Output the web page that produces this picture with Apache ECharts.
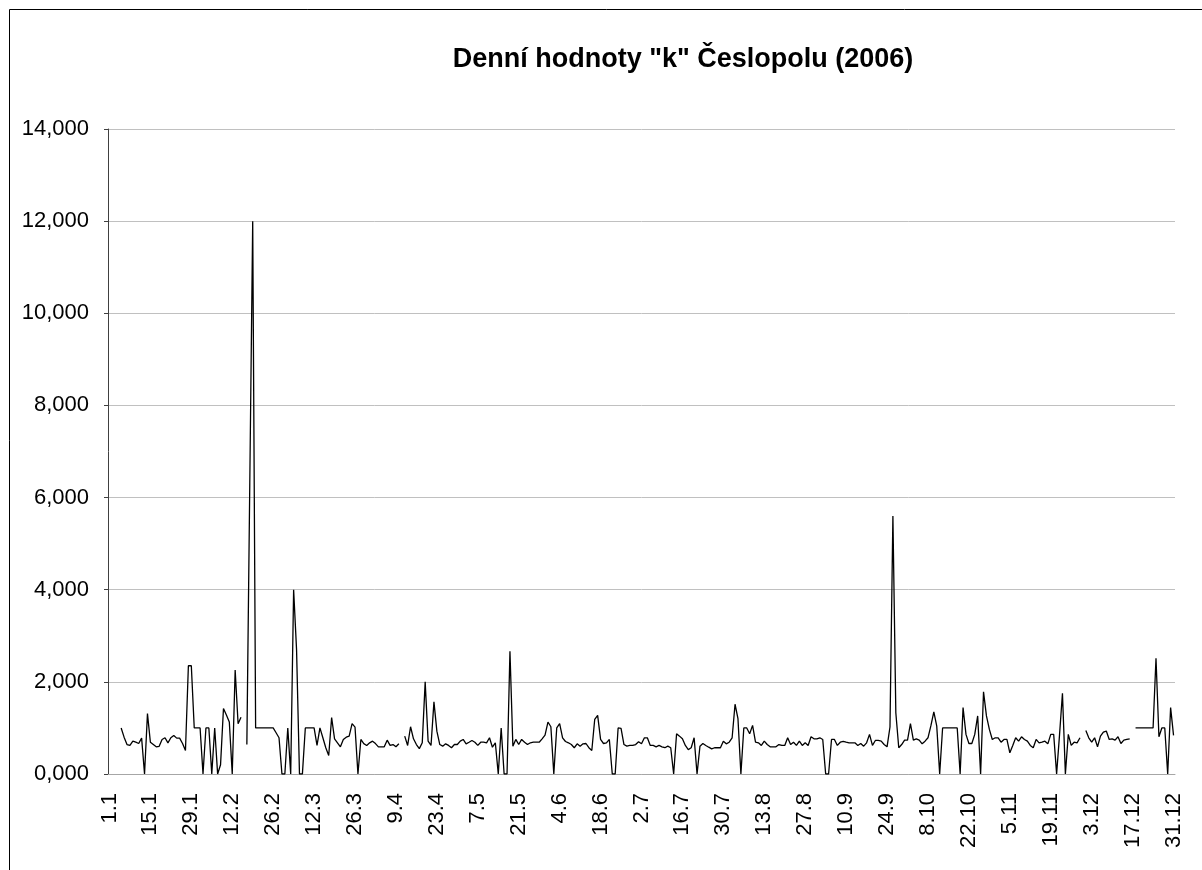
<!DOCTYPE html>
<html>
<head>
<meta charset="utf-8">
<script src="https://cdn.jsdelivr.net/npm/echarts@6/dist/echarts.min.js"></script>
<style>
  html, body { margin: 0; padding: 0; background: #fff; }
  #chart { width: 1202px; height: 870px; }
</style>
</head>
<body>
<div id="chart"></div>
<script>
// denni hodnoty k, 2006 (null = chybi mereni)
var kValues = [
  null, null, null, null, 1.0, 0.80, 0.64, 0.62, 0.713, 0.69,
  0.662, 0.779, 0, 1.31, 0.69, 0.64, 0.59, 0.60, 0.75, 0.786,
  0.677, 0.786, 0.837, 0.779, 0.779, 0.662, 0.51, 2.35, 2.35, 1.0,
  1.0, 1.0, 0, 1.0, 1.0, 0, 1.0, 0, 0.2, 1.42,
  1.28, 1.128, 0, 2.257, 1.09, 1.23, null, 0.64, 6.3, 12.0,
  1.0, 1.0, 1.0, 1.0, 1.0, 1.0, 1.0, 0.895, 0.786, 0,
  0, 1.0, 0, 4.0, 2.7, 0, 0, 1.0, 1.0, 1.0,
  1.0, 0.62, 1.0, 0.786, 0.57, 0.40, 1.223, 0.764, 0.677, 0.59,
  0.75, 0.80, 0.822, 1.092, 1.019, 0, 0.75, 0.66, 0.62, 0.677,
  0.713, 0.66, 0.59, 0.59, 0.59, 0.735, 0.62, 0.64, 0.59, 0.655,
  null, 0.822, 0.62, 1.026, 0.764, 0.64, 0.55, 0.677, 2.0, 0.713,
  0.62, 1.565, 0.93, 0.64, 0.604, 0.655, 0.62, 0.57, 0.64, 0.64,
  0.713, 0.75, 0.655, 0.69, 0.728, 0.69, 0.62, 0.69, 0.69, 0.677,
  0.786, 0.582, 0.677, 0, 1.0, 0, 0, 2.663, 0.604, 0.75,
  0.64, 0.75, 0.69, 0.64, 0.677, 0.69, 0.69, 0.69, 0.764, 0.845,
  1.128, 1.026, 0, 1.0, 1.092, 0.786, 0.706, 0.677, 0.64, 0.57,
  0.655, 0.604, 0.655, 0.662, 0.57, 0.51, 1.187, 1.274, 0.75, 0.662,
  0.677, 0.75, 0, 0, 1.0, 0.99, 0.64, 0.604, 0.62, 0.62,
  0.64, 0.70, 0.655, 0.786, 0.786, 0.62, 0.62, 0.59, 0.62, 0.59,
  0.57, 0.604, 0.57, 0, 0.874, 0.822, 0.764, 0.62, 0.53, 0.57,
  0.786, 0, 0.604, 0.662, 0.62, 0.582, 0.546, 0.57, 0.57, 0.57,
  0.713, 0.655, 0.69, 0.786, 1.514, 1.2, 0, 1.0, 1.0, 0.874,
  1.056, 0.69, 0.677, 0.62, 0.713, 0.64, 0.59, 0.59, 0.59, 0.64,
  0.62, 0.62, 0.786, 0.64, 0.69, 0.62, 0.713, 0.62, 0.677, 0.62,
  0.808, 0.764, 0.764, 0.786, 0.75, 0, 0, 0.75, 0.75, 0.62,
  0.69, 0.706, 0.69, 0.677, 0.677, 0.677, 0.62, 0.662, 0.604, 0.677,
  0.86, 0.62, 0.728, 0.728, 0.713, 0.64, 0.59, 1.02, 5.6, 1.33,
  0.57, 0.64, 0.735, 0.735, 1.092, 0.735, 0.764, 0.735, 0.655, 0.713,
  0.786, 1.05, 1.347, 1.04, 0, 1.0, 1.0, 1.0, 1.0, 1.0,
  1.0, 0, 1.441, 0.86, 0.662, 0.662, 0.86, 1.26, 0, 1.784,
  1.26, 0.968, 0.75, 0.786, 0.786, 0.69, 0.75, 0.75, 0.46, 0.62,
  0.786, 0.713, 0.808, 0.75, 0.713, 0.62, 0.57, 0.75, 0.677, 0.69,
  0.713, 0.655, 0.86, 0.86, 0, 0.85, 1.754, 0, 0.86, 0.62,
  0.69, 0.677, 0.786, null, 0.946, 0.786, 0.69, 0.786, 0.59, 0.822,
  0.91, 0.932, 0.75, 0.764, 0.735, 0.808, 0.662, 0.735, 0.75, 0.764,
  null, 1.0, 1.0, 1.0, 1.0, 1.0, 1.0, 1.0, 2.512, 0.808,
  1.0, 1.0, 0, 1.441, 0.837
];

// kategorie = dny roku 2006 ve tvaru d.m
var days = [];
for (var d = new Date(2006, 0, 1); d.getFullYear() == 2006; d.setDate(d.getDate() + 1)) {
  days.push(d.getDate() + '.' + (d.getMonth() + 1));
}

var yTicks = [0, 2, 4, 6, 8, 10, 12, 14];
var labelStep = 14;
var font = '"Liberation Sans", Arial, sans-serif';

var chart = echarts.init(document.getElementById('chart'));

var option = {
  animation: false,
  backgroundColor: '#fff',
  graphic: [
    {
      type: 'rect',
      z: -1,
      shape: { x: 9.5, y: 9.5, width: 1400, height: 1000 },
      style: { fill: 'none', stroke: '#000', lineWidth: 1 }
    },
    {
      type: 'text',
      x: 683,
      y: 60,
      style: {
        text: 'Denní hodnoty "k" Česlopolu (2006)',
        font: 'bold 27px ' + font,
        fill: '#000',
        textAlign: 'center',
        textVerticalAlign: 'middle'
      }
    }
  ],
  grid: { left: 108, right: 27, top: 129, bottom: 96 },
  xAxis: {
    type: 'category',
    data: days,
    boundaryGap: true,
    axisLine: { lineStyle: { color: '#a6a6a6', width: 1 } },
    axisTick: { interval: labelStep - 1, length: 5, lineStyle: { color: '#a6a6a6' } },
    axisLabel: {
      interval: labelStep - 1,
      rotate: 90,
      margin: 19,
      color: '#000',
      fontSize: 22,
      fontFamily: font
    },
    splitLine: { show: false }
  },
  yAxis: {
    type: 'value',
    min: yTicks[0],
    max: yTicks[yTicks.length - 1],
    interval: 2,
    axisLine: { show: true, lineStyle: { color: '#404040', width: 1 } },
    axisTick: { show: true, length: 4, lineStyle: { color: '#404040' } },
    axisLabel: {
      margin: 19,
      color: '#000',
      fontSize: 22,
      fontFamily: font,
      formatter: function (v) { return v.toFixed(3).replace('.', ','); }
    },
    splitLine: { lineStyle: { color: '#c0c0c0', width: 1 } }
  },
  series: [
    {
      name: 'k',
      type: 'line',
      data: kValues,
      symbol: 'none',
      connectNulls: false,
      lineStyle: { color: '#000', width: 1.3 }
    }
  ]
};

chart.setOption(option);
</script>
</body>
</html>
